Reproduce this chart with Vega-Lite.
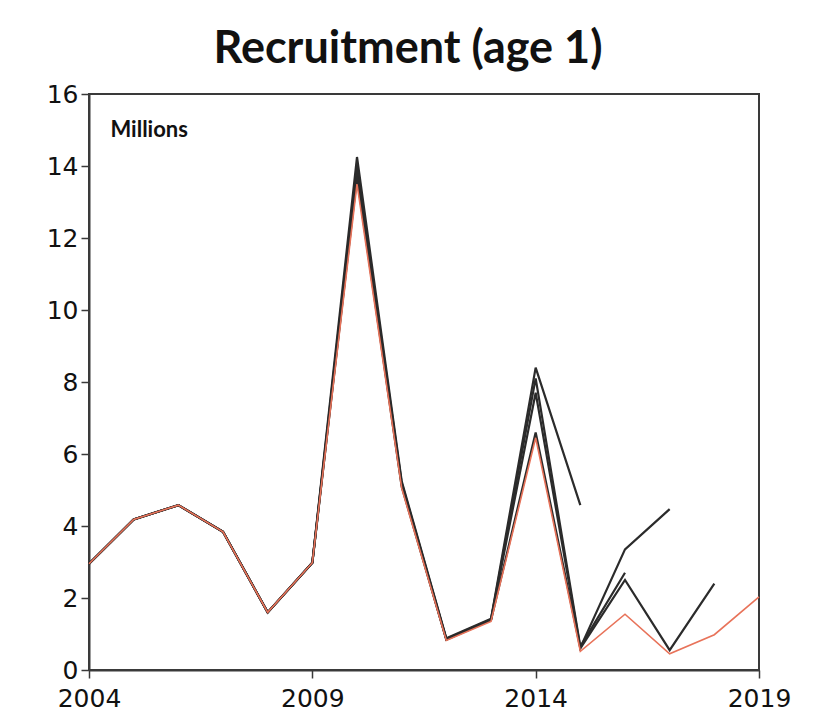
{
  "$schema": "https://vega.github.io/schema/vega-lite/v6.json",
  "autosize": "none",
  "width": 670,
  "height": 576,
  "padding": {"left": 89, "top": 94, "right": 64, "bottom": 56},
  "background": "white",
  "config": {
    "view": {"stroke": "#3a3a3a", "strokeWidth": 2},
    "axis": {
      "grid": false,
      "domainColor": "#3a3a3a",
      "domainWidth": 2,
      "tickColor": "#3a3a3a",
      "tickWidth": 1.5,
      "tickSize": 8,
      "labelFont": "DejaVu Sans",
      "labelFontSize": 25,
      "labelColor": "#111",
      "title": null
    }
  },
  "title": {
    "text": "Recruitment (age 1)",
    "font": "Lato",
    "fontSize": 45,
    "fontWeight": "bold",
    "color": "#111",
    "anchor": "middle",
    "dx": -16,
    "offset": 10
  },
  "datasets": {
    "runs": [
      {"run": "A", "year": 2004, "value": 2.95}, {"run": "A", "year": 2005, "value": 4.18}, {"run": "A", "year": 2006, "value": 4.58}, {"run": "A", "year": 2007, "value": 3.84}, {"run": "A", "year": 2008, "value": 1.6}, {"run": "A", "year": 2009, "value": 2.98}, {"run": "A", "year": 2010, "value": 14.25}, {"run": "A", "year": 2011, "value": 5.25}, {"run": "A", "year": 2012, "value": 0.88}, {"run": "A", "year": 2013, "value": 1.42}, {"run": "A", "year": 2014, "value": 8.4}, {"run": "A", "year": 2015, "value": 4.58},
      {"run": "B", "year": 2004, "value": 2.95}, {"run": "B", "year": 2005, "value": 4.18}, {"run": "B", "year": 2006, "value": 4.58}, {"run": "B", "year": 2007, "value": 3.84}, {"run": "B", "year": 2008, "value": 1.6}, {"run": "B", "year": 2009, "value": 2.98}, {"run": "B", "year": 2010, "value": 14.0}, {"run": "B", "year": 2011, "value": 5.2}, {"run": "B", "year": 2012, "value": 0.86}, {"run": "B", "year": 2013, "value": 1.4}, {"run": "B", "year": 2014, "value": 8.1}, {"run": "B", "year": 2015, "value": 0.65}, {"run": "B", "year": 2016, "value": 2.7},
      {"run": "C", "year": 2004, "value": 2.95}, {"run": "C", "year": 2005, "value": 4.18}, {"run": "C", "year": 2006, "value": 4.58}, {"run": "C", "year": 2007, "value": 3.84}, {"run": "C", "year": 2008, "value": 1.6}, {"run": "C", "year": 2009, "value": 2.98}, {"run": "C", "year": 2010, "value": 13.8}, {"run": "C", "year": 2011, "value": 5.15}, {"run": "C", "year": 2012, "value": 0.85}, {"run": "C", "year": 2013, "value": 1.4}, {"run": "C", "year": 2014, "value": 7.7}, {"run": "C", "year": 2015, "value": 0.62}, {"run": "C", "year": 2016, "value": 3.35}, {"run": "C", "year": 2017, "value": 4.47},
      {"run": "D", "year": 2004, "value": 2.95}, {"run": "D", "year": 2005, "value": 4.18}, {"run": "D", "year": 2006, "value": 4.58}, {"run": "D", "year": 2007, "value": 3.84}, {"run": "D", "year": 2008, "value": 1.6}, {"run": "D", "year": 2009, "value": 2.98}, {"run": "D", "year": 2010, "value": 13.7}, {"run": "D", "year": 2011, "value": 5.1}, {"run": "D", "year": 2012, "value": 0.84}, {"run": "D", "year": 2013, "value": 1.38}, {"run": "D", "year": 2014, "value": 6.6}, {"run": "D", "year": 2015, "value": 0.6}, {"run": "D", "year": 2016, "value": 2.5}, {"run": "D", "year": 2017, "value": 0.55}, {"run": "D", "year": 2018, "value": 2.4}
    ],
    "final": [
      {"year": 2004, "value": 2.95}, {"year": 2005, "value": 4.18}, {"year": 2006, "value": 4.58}, {"year": 2007, "value": 3.84}, {"year": 2008, "value": 1.6}, {"year": 2009, "value": 2.98}, {"year": 2010, "value": 13.5}, {"year": 2011, "value": 5.05}, {"year": 2012, "value": 0.82}, {"year": 2013, "value": 1.35}, {"year": 2014, "value": 6.45}, {"year": 2015, "value": 0.52}, {"year": 2016, "value": 1.55}, {"year": 2017, "value": 0.45}, {"year": 2018, "value": 0.98}, {"year": 2019, "value": 2.03}
    ],
    "label": [
      {"year": 2004.48, "value": 15.0, "text": "Millions"}
    ]
  },
  "layer": [
    {
      "data": {"name": "runs"},
      "mark": {"type": "line", "color": "#2b2b2b", "strokeWidth": 2.2, "strokeJoin": "miter"},
      "encoding": {
        "x": {"field": "year", "type": "quantitative", "scale": {"domain": [2004, 2019], "nice": false, "zero": false},
              "axis": {"values": [2004, 2009, 2014, 2019], "format": "d", "labelPadding": 8, "labelFlush": false}},
        "y": {"field": "value", "type": "quantitative", "scale": {"domain": [0, 16], "nice": false},
              "axis": {"values": [0, 2, 4, 6, 8, 10, 12, 14, 16], "labelPadding": 3}},
        "detail": {"field": "run"}
      }
    },
    {
      "data": {"name": "final"},
      "mark": {"type": "line", "color": "#e8735a", "strokeWidth": 1.6},
      "encoding": {
        "x": {"field": "year", "type": "quantitative"},
        "y": {"field": "value", "type": "quantitative"}
      }
    },
    {
      "data": {"name": "label"},
      "mark": {"type": "text", "font": "Lato", "fontWeight": "bold", "fontSize": 22, "align": "left", "baseline": "middle", "color": "#111"},
      "encoding": {
        "x": {"field": "year", "type": "quantitative"},
        "y": {"field": "value", "type": "quantitative"},
        "text": {"field": "text"}
      }
    }
  ]
}
